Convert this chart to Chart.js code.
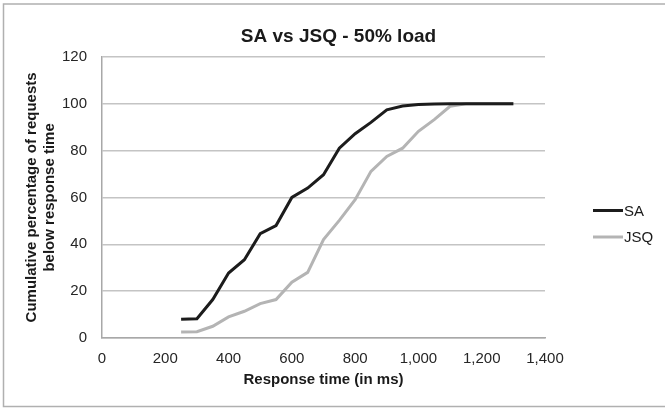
<!DOCTYPE html>
<html>
<head>
<meta charset="utf-8">
<script src="https://cdn.jsdelivr.net/npm/chart.js@4.4.1/dist/chart.umd.min.js"></script>
<style>
    html, body { margin: 0; padding: 0; background: #ffffff; }
    #wrap { width: 665px; height: 408px; }
</style>
</head>
<body>
<div id="wrap"><canvas id="cdfChart" width="665" height="408"></canvas></div>
<script>
// response times (ms) and cumulative percentages
const responseTimes = [250, 300, 350, 400, 450, 500, 550, 600, 650, 700, 750,
    800, 850, 900, 950, 1000, 1050, 1100, 1150, 1200, 1250, 1300];
const saValues = [8, 8.2, 16.4, 27.7, 33.4, 44.5, 48, 60, 64, 69.7, 81,
    87.2, 92, 97.4, 99, 99.6, 99.9, 100, 100, 100, 100, 100];
const jsqValues = [2.6, 2.7, 5, 9, 11.4, 14.7, 16.4, 23.8, 28, 42, 50.2,
    59, 71.1, 77.5, 81, 88.2, 93.2, 98.9, 100, 100, 100, 100];
const seriesNames = ['SA', 'JSQ'];
const xTickRange = [0, 1400, 200];
const yTickRange = [0, 120, 20];

const FONT = '"Liberation Sans", Arial, sans-serif';

function toPoints(values) {
    const points = [];
    for (let i = 0; i < responseTimes.length; i++) {
        points.push({ x: responseTimes[i], y: values[i] });
    }
    return points;
}

// grey frame round the whole chart, like the spreadsheet export
const frameBorder = {
    id: 'frameBorder',
    beforeDraw(chart) {
        const ctx = chart.ctx;
        ctx.save();
        ctx.strokeStyle = '#b0b0b0';
        ctx.lineWidth = 1.5;
        ctx.strokeRect(3.5, 4, 700, 402.5);
        ctx.restore();
    }
};

// legend with short line samples to the right of the plot
const lineLegend = {
    id: 'lineLegend',
    afterDraw(chart) {
        const ctx = chart.ctx;
        ctx.save();
        ctx.font = '15px ' + FONT;
        ctx.textBaseline = 'middle';
        ctx.textAlign = 'left';
        chart.data.datasets.forEach((ds, i) => {
            const y = 210.5 + i * 26.5;
            ctx.strokeStyle = ds.borderColor;
            ctx.lineWidth = 3;
            ctx.beginPath();
            ctx.moveTo(593, y);
            ctx.lineTo(623, y);
            ctx.stroke();
            ctx.fillStyle = '#1a1a1a';
            ctx.fillText(ds.label, 624, y + 1);
        });
        ctx.restore();
    }
};

const ctx = document.getElementById('cdfChart').getContext('2d');
new Chart(ctx, {
    type: 'line',
    data: {
        datasets: [{
            label: seriesNames[0],
            data: toPoints(saValues),
            borderColor: '#1c1c1c',
            backgroundColor: '#1c1c1c',
            borderWidth: 3,
            pointRadius: 0,
            tension: 0,
            fill: false
        }, {
            label: seriesNames[1],
            data: toPoints(jsqValues),
            borderColor: '#b4b4b4',
            backgroundColor: '#b4b4b4',
            borderWidth: 3,
            pointRadius: 0,
            tension: 0,
            fill: false
        }]
    },
    options: {
        responsive: false,
        animation: false,
        layout: {
            padding: { left: 4, top: 4, right: -8, bottom: 4 }
        },
        plugins: {
            legend: { display: false },
            tooltip: { enabled: false },
            title: {
                display: true,
                text: 'SA vs JSQ - 50% load',
                color: '#1a1a1a',
                font: { family: FONT, size: 19, weight: 'bold' },
                padding: { top: 21.5, bottom: 8.5 }
            }
        },
        scales: {
            x: {
                type: 'linear',
                min: xTickRange[0],
                max: xTickRange[1],
                ticks: {
                    stepSize: xTickRange[2],
                    color: '#262626',
                    padding: 12,
                    maxRotation: 0,
                    font: { family: FONT, size: 15 }
                },
                grid: { display: false, drawTicks: false },
                border: { display: true, color: '#a8a8a8', width: 1.5 },
                title: {
                    display: true,
                    text: 'Response time (in ms)',
                    color: '#1a1a1a',
                    font: { family: FONT, size: 15, weight: 'bold' },
                    padding: { top: 0, bottom: 15 }
                },
                afterFit(scale) {
                    scale.height = 66;
                    scale.paddingRight = 120;
                }
            },
            y: {
                min: yTickRange[0],
                max: yTickRange[1],
                ticks: {
                    stepSize: yTickRange[2],
                    color: '#262626',
                    padding: 15,
                    font: { family: FONT, size: 15 }
                },
                grid: { color: '#c4c4c4', lineWidth: 1.5, drawTicks: false },
                border: { display: true, color: '#a8a8a8', width: 1.5 },
                title: {
                    display: true,
                    text: ['Cumulative percentage of requests', 'below response time'],
                    color: '#1a1a1a',
                    font: { family: FONT, size: 15, weight: 'bold', lineHeight: 1.2 },
                    padding: { top: 19, bottom: 0 }
                },
                afterFit(scale) {
                    scale.width = 98;
                }
            }
        }
    },
    plugins: [frameBorder, lineLegend]
});
</script>
</body>
</html>
